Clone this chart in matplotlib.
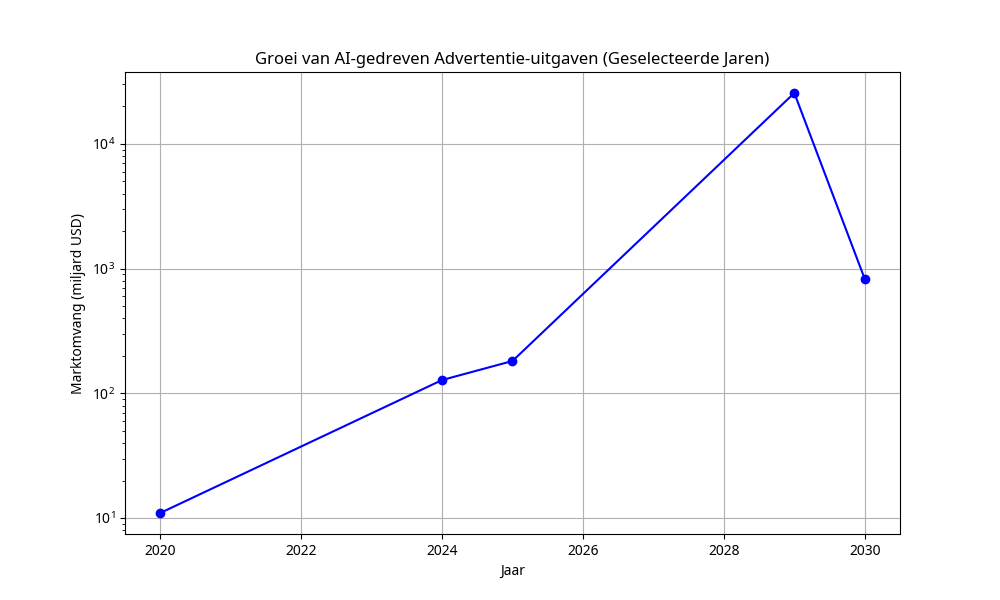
import matplotlib
matplotlib.use("Agg")
import matplotlib.pyplot as plt

plt.rcParams['font.family'] = ['Noto Sans', 'DejaVu Sans']

years = [2020, 2024, 2025, 2029, 2030]
market_size = [11, 128, 182, 25600, 826]

fig, ax = plt.subplots(figsize=(10, 6), dpi=100)
ax.plot(years, market_size, marker='o', color='blue', linestyle='-')
ax.set_yscale('log')
ax.set_title("Groei van AI-gedreven Advertentie-uitgaven (Geselecteerde Jaren)")
ax.set_xlabel("Jaar")
ax.set_ylabel("Marktomvang (miljard USD)")
ax.grid(True)

fig.savefig("out.png")
